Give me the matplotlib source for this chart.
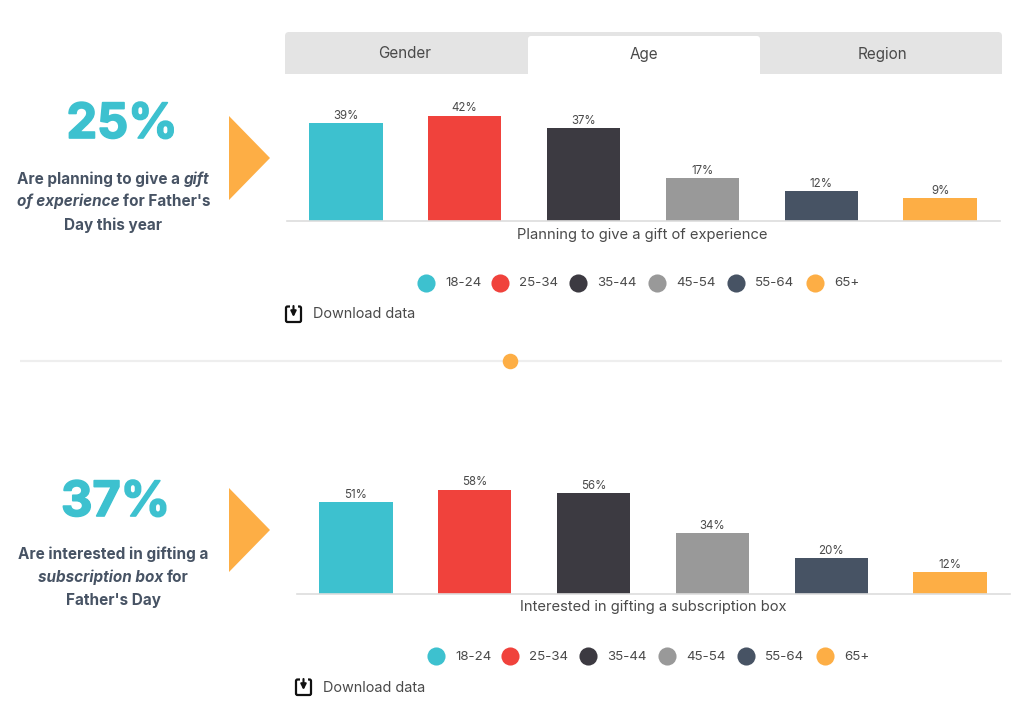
import matplotlib
matplotlib.use("Agg")
import matplotlib.pyplot as plt
import matplotlib.patheffects as pe
from matplotlib.patches import FancyBboxPatch, Rectangle, Polygon

W, H = 1024, 716
FONT = "Inter"
plt.rcParams["font.family"] = [FONT, "DejaVu Sans"]

age_groups = ["18-24", "25-34", "35-44", "45-54", "55-64", "65+"]
colors = ["#3DC1CF", "#F0423C", "#3C3A41", "#999999", "#475364", "#FDAE45"]
experience_values = [39, 42, 37, 17, 12, 9]
subscription_values = [51, 58, 56, 34, 20, 12]
tabs = ["Gender", "Age", "Region"]
experience_title = "Planning to give a gift of experience"
subscription_title = "Interested in gifting a subscription box"

TXT = "#4A4A4A"
NAVY = "#475364"

fig = plt.figure(figsize=(W / 100, H / 100), dpi=100, facecolor="white")
bg = fig.add_axes([0, 0, 1, 1])
bg.set_xlim(0, W)
bg.set_ylim(H, 0)
bg.axis("off")


def runs(center, y, parts, size):
    r = fig.canvas.get_renderer()
    items = []
    total = 0
    for s, style in parts:
        t = bg.text(0, y, s, fontsize=size, color=NAVY, va="center", ha="left",
                    fontweight="bold", fontstyle=style)
        w = t.get_window_extent(r).width
        items.append((t, w))
        total += w
    x = center - total / 2
    for t, w in items:
        t.set_x(x)
        x += w


def panel(left, base, px_per_pct, values, title, title_x, big, big_x, big_base, lines, line_ys, tx, leg_x, leg_y, dl_x, dl_y, tri_y):
    ax = fig.add_axes([left / W, 1 - base / H, 713 / W, 125 / H])
    ax.patch.set_alpha(0)
    ax.bar(range(6), values, width=0.618, color=colors)
    ax.set_xlim(-0.5, 5.5)
    ax.set_ylim(0, 125 / px_per_pct)
    for s in ["top", "left", "right"]:
        ax.spines[s].set_visible(False)
    ax.spines["bottom"].set_color("#DDDDDD")
    ax.spines["bottom"].set_linewidth(1.2)
    ax.set_yticks([])
    ax.set_xticks([])
    for i, v in enumerate(values):
        ax.annotate(f"{v}%", (i, v), xytext=(0, 0.8), textcoords="offset points",
                    ha="center", va="bottom", fontsize=8.3, color=TXT)
    bg.text(title_x, base + 13.5, title, fontsize=10.6, color=TXT, ha="center", va="center")

    bg.text(big_x, big_base, big, fontsize=35, fontweight="bold", color=colors[0],
            ha="center", va="baseline",
            path_effects=[pe.withStroke(linewidth=1.2, foreground=colors[0])])
    for parts, ly in zip(lines, line_ys):
        runs(tx, ly, parts, 11)
    bg.add_patch(Polygon([[229, tri_y - 42], [270, tri_y], [229, tri_y + 42]], closed=True,
                         fc=colors[5], ec="none"))

    offs = [0, 74, 152, 231, 310, 389]
    for off, c, lab in zip(offs, colors, age_groups):
        bg.scatter([leg_x + off], [leg_y], s=170, color=c, linewidths=0)
        bg.text(leg_x + off + 19, leg_y + 0.5, lab, fontsize=9.6, color=TXT, va="center", ha="left")

    bg.add_patch(FancyBboxPatch((dl_x + 1, dl_y - 7.5), 15, 15.5, boxstyle="round,pad=0,rounding_size=1.5",
                                fc="white", ec="#111111", lw=1.6))
    bg.add_patch(Rectangle((dl_x + 4.5, dl_y - 10), 8, 4, fc="white", ec="none"))
    bg.annotate("", xy=(dl_x + 8.5, dl_y + 3), xytext=(dl_x + 8.5, dl_y - 8),
                arrowprops=dict(arrowstyle="-|>", color="#111111", lw=1.5, mutation_scale=8,
                                shrinkA=0, shrinkB=0))
    bg.text(dl_x + 28, dl_y + 0.5, "Download data", fontsize=10.4, color=TXT, va="center", ha="left")


bg.add_patch(FancyBboxPatch((285, 32), 717, 42, boxstyle="round,pad=0,rounding_size=4",
                            fc="#E4E4E4", ec="none"))
bg.add_patch(Rectangle((285, 68), 717, 6, fc="#E4E4E4", ec="none"))
bg.add_patch(FancyBboxPatch((528, 36), 232, 38, boxstyle="round,pad=0,rounding_size=3",
                            fc="white", ec="none"))
bg.add_patch(Rectangle((528, 68), 232, 6, fc="white", ec="none"))
for x, t in zip([405, 644, 882], tabs):
    bg.text(x, 54, t, fontsize=11, color=TXT, ha="center", va="center")

panel(286.5, 221, 2.51, experience_values, experience_title, 642.5, "25%", 122, 138,
      [[("Are planning to give a ", "normal"), ("gift", "italic")],
       [("of experience ", "italic"), ("for Father's", "normal")],
       [("Day this year", "normal")]],
      [179, 201.5, 225], 113.5, 426, 283, 285, 314, 158)

panel(296.5, 594, 1.80, subscription_values, subscription_title, 653, "37%", 115.5, 516,
      [[("Are interested in gifting a", "normal")],
       [("subscription box ", "italic"), ("for", "normal")],
       [("Father's Day", "normal")]],
      [554.5, 577, 600.5], 113, 436, 656, 295, 687, 530)

bg.plot([20, 1002], [361, 361], color="#EEEEEE", lw=1.6, zorder=1, solid_capstyle="butt")
bg.scatter([510], [361], s=125, color=colors[5], linewidths=0, zorder=3)

fig.savefig("out.png", dpi=100, facecolor="white")
